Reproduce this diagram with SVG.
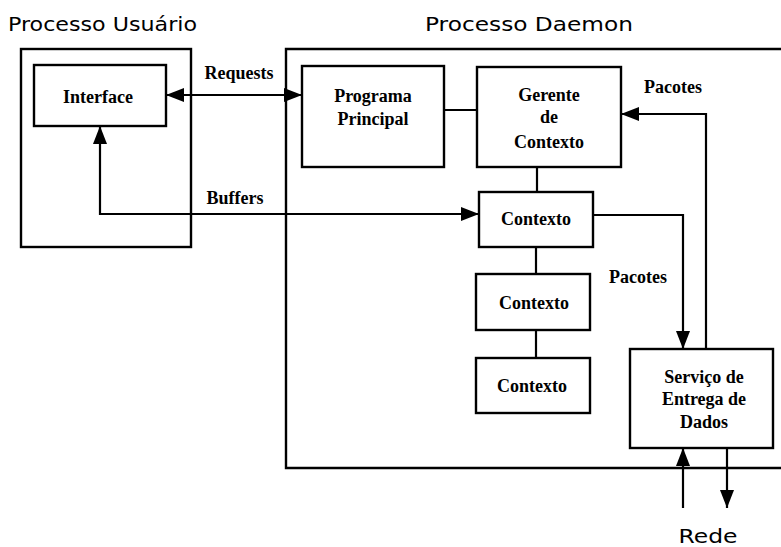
<svg xmlns="http://www.w3.org/2000/svg" width="781" height="547" viewBox="0 0 781 547">
  <style>
    .box { fill: #fff; stroke: #000; stroke-width: 2.4; }
    .frame { fill: none; stroke: #000; stroke-width: 2.4; }
    .wire { fill: none; stroke: #000; stroke-width: 2.2; }
    .lbl { font-family: "Liberation Serif", "Times New Roman", serif; font-weight: bold; font-size: 18px; fill: #000; text-anchor: middle; }
    .title { font-family: "DejaVu Sans", "Liberation Sans", sans-serif; font-size: 20px; fill: #000; }
  </style>
  <defs>
    <marker id="arrow" viewBox="0 0 18 14" refX="18" refY="7" markerWidth="18" markerHeight="14" markerUnits="userSpaceOnUse" orient="auto-start-reverse">
      <path d="M0,0 L18,7 L0,14 Z" fill="#000"/>
    </marker>
  </defs>

  <!-- process frames -->
  <g id="processo-usuario">
    <text class="title" x="8" y="31" textLength="189" lengthAdjust="spacingAndGlyphs">Processo Usuário</text>
    <rect class="frame" x="21" y="49" width="170" height="198"/>
  </g>
  <g id="processo-daemon">
    <text class="title" x="425" y="31" textLength="208" lengthAdjust="spacingAndGlyphs">Processo Daemon</text>
    <path class="frame" d="M782,49 H286 V468 H782"/>
  </g>

  <!-- connectors -->
  <g id="connectors">
    <line class="wire" x1="166" y1="95" x2="302" y2="95" marker-start="url(#arrow)" marker-end="url(#arrow)"/>
    <path class="wire" d="M100,126 V214 H479" marker-start="url(#arrow)" marker-end="url(#arrow)"/>
    <line class="wire" x1="444" y1="110" x2="477" y2="110"/>
    <line class="wire" x1="537" y1="167" x2="537" y2="192"/>
    <line class="wire" x1="536" y1="247" x2="536" y2="274"/>
    <line class="wire" x1="536" y1="330" x2="536" y2="358"/>
    <path class="wire" d="M593,215 H683 V349" marker-end="url(#arrow)"/>
    <path class="wire" d="M706,349 V114 H621" marker-end="url(#arrow)"/>
    <line class="wire" x1="683" y1="508" x2="683" y2="448" marker-end="url(#arrow)"/>
    <line class="wire" x1="727" y1="448" x2="727" y2="508" marker-end="url(#arrow)"/>
    <text class="lbl" x="239" y="79">Requests</text>
    <text class="lbl" x="235" y="204">Buffers</text>
    <text class="lbl" x="673" y="93">Pacotes</text>
    <text class="lbl" x="638" y="283">Pacotes</text>
  </g>

  <!-- nodes -->
  <g id="interface">
    <rect class="box" x="34" y="65" width="132" height="61"/>
    <text class="lbl" x="98" y="103">Interface</text>
  </g>
  <g id="programa-principal">
    <rect class="box" x="302" y="66" width="142" height="101"/>
    <text class="lbl" x="373" y="102">Programa</text>
    <text class="lbl" x="373" y="125">Principal</text>
  </g>
  <g id="gerente-contexto">
    <rect class="box" x="477" y="67" width="144" height="100"/>
    <text class="lbl" x="549" y="101">Gerente</text>
    <text class="lbl" x="549" y="123">de</text>
    <text class="lbl" x="549" y="148">Contexto</text>
  </g>
  <g id="contexto-1">
    <rect class="box" x="479" y="192" width="114" height="55"/>
    <text class="lbl" x="536" y="225">Contexto</text>
  </g>
  <g id="contexto-2">
    <rect class="box" x="476" y="274" width="114" height="56"/>
    <text class="lbl" x="534" y="309">Contexto</text>
  </g>
  <g id="contexto-3">
    <rect class="box" x="476" y="358" width="114" height="55"/>
    <text class="lbl" x="532" y="392">Contexto</text>
  </g>
  <g id="servico-entrega">
    <rect class="box" x="630" y="349" width="143" height="99"/>
    <text class="lbl" x="704" y="383">Serviço de</text>
    <text class="lbl" x="704" y="405">Entrega de</text>
    <text class="lbl" x="704" y="428">Dados</text>
  </g>
  <g id="rede">
    <text class="title" x="708" y="543" text-anchor="middle" font-size="21" textLength="59" lengthAdjust="spacingAndGlyphs">Rede</text>
  </g>
</svg>
